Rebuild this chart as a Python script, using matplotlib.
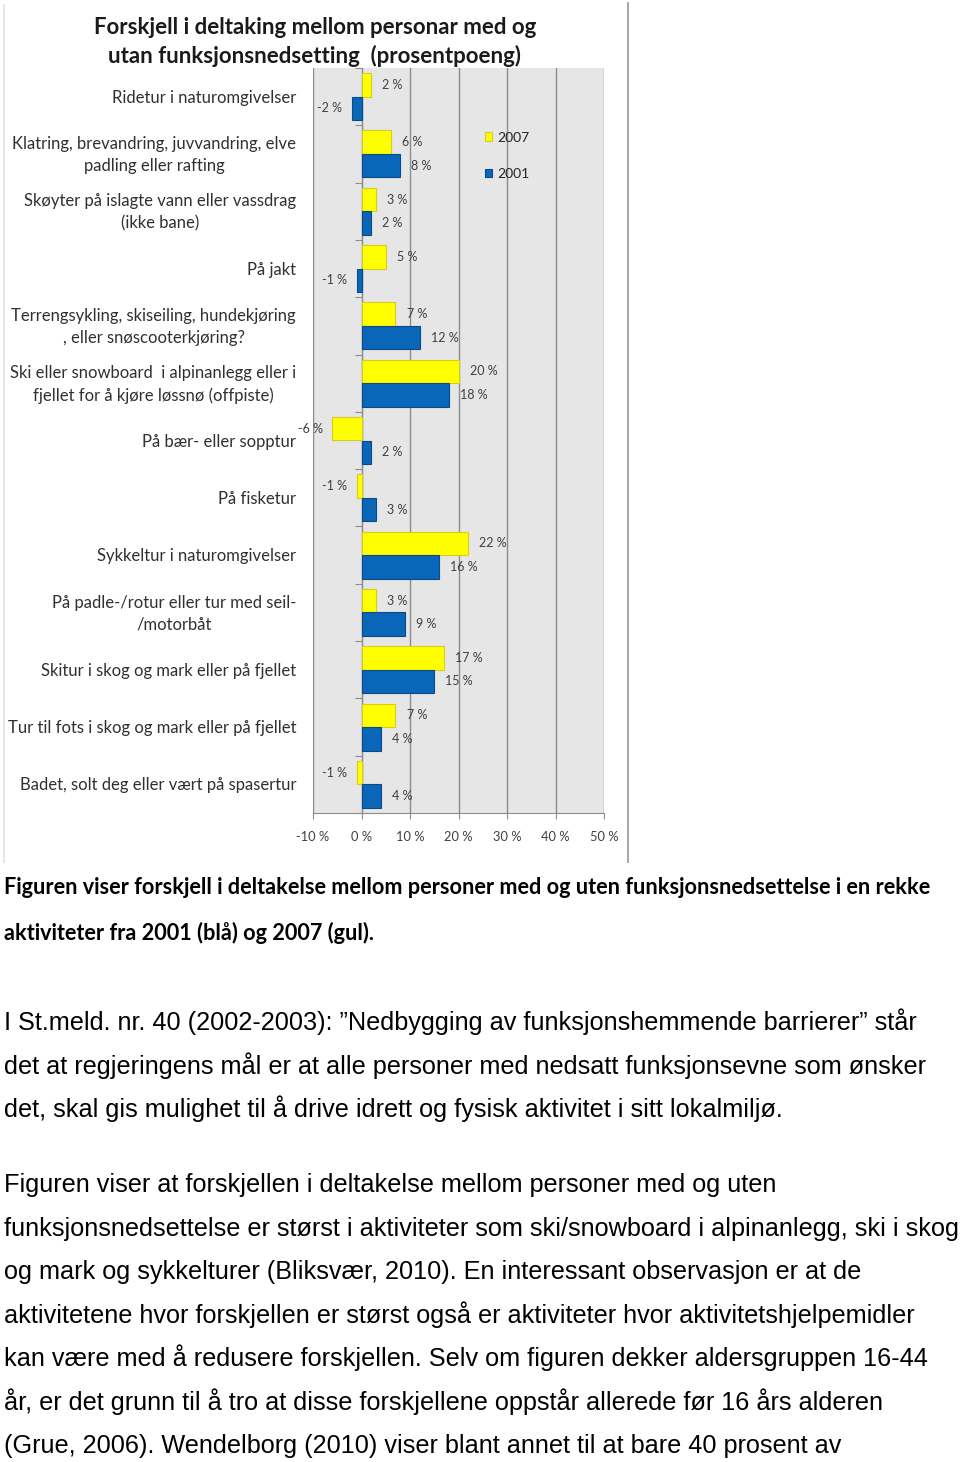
import matplotlib
matplotlib.use("Agg")
import matplotlib.pyplot as plt
from matplotlib import font_manager
from matplotlib.lines import Line2D
from matplotlib.transforms import blended_transform_factory

W, H = 960, 1462

categories = [
    "Ridetur i naturomgivelser",
    "Klatring, brevandring, juvvandring, elve\npadling eller rafting",
    "Skøyter på islagte vann eller vassdrag\n(ikke bane)",
    "På jakt",
    "Terrengsykling, skiseiling, hundekjøring\n, eller snøscooterkjøring?",
    "Ski eller snowboard  i alpinanlegg eller i\nfjellet for å kjøre løssnø (offpiste)",
    "På bær- eller sopptur",
    "På fisketur",
    "Sykkeltur i naturomgivelser",
    "På padle-/rotur eller tur med seil-\n/motorbåt",
    "Skitur i skog og mark eller på fjellet",
    "Tur til fots i skog og mark eller på fjellet",
    "Badet, solt deg eller vært på spasertur",
]
v2007 = [2, 6, 3, 5, 7, 20, -6, -1, 22, 3, 17, 7, -1]
v2001 = [-2, 8, 2, -1, 12, 18, 2, 3, 16, 9, 15, 4, 4]
xticks = [-10, 0, 10, 20, 30, 40, 50]

title = "Forskjell i deltaking mellom personar med og\nutan funksjonsnedsetting  (prosentpoeng)"
caption = [
    "Figuren viser forskjell i deltakelse mellom personer med og uten funksjonsnedsettelse i en rekke",
    "aktiviteter fra 2001 (blå) og 2007 (gul).",
]
body = [
    "I St.meld. nr. 40 (2002-2003): \u201dNedbygging av funksjonshemmende barrierer\u201d står",
    "det at regjeringens mål er at alle personer med nedsatt funksjonsevne som ønsker",
    "det, skal gis mulighet til å drive idrett og fysisk aktivitet i sitt lokalmiljø.",
    "Figuren viser at forskjellen i deltakelse mellom personer med og uten",
    "funksjonsnedsettelse er størst i aktiviteter som ski/snowboard i alpinanlegg, ski i skog",
    "og mark og sykkelturer (Bliksvær, 2010). En interessant observasjon er at de",
    "aktivitetene hvor forskjellen er størst også er aktiviteter hvor aktivitetshjelpemidler",
    "kan være med å redusere forskjellen. Selv om figuren dekker aldersgruppen 16-44",
    "år, er det grunn til å tro at disse forskjellene oppstår allerede før 16 års alderen",
    "(Grue, 2006). Wendelborg (2010) viser blant annet til at bare 40 prosent av",
]
caption_base = [894, 940]
body_base = [1030, 1074, 1117, 1192, 1236, 1279, 1323, 1366, 1410, 1453]

CAL = "Lato"
installed = {f.name for f in font_manager.fontManager.ttflist}
BODY_FONT = "Liberation Sans Narrow" if "Liberation Sans Narrow" in installed else "Liberation Sans"

YEL, YEL_E = "#ffff00", "#d8cc20"
BLU, BLU_E = "#0a66b8", "#0a4a85"


def fx(px):
    return px / W


def fy(px):
    return 1 - px / H


def fit_text(fig, x, y, s, width_px, size, **kw):
    # shrink or grow font so the line spans width_px
    t = fig.text(fx(x), fy(y), s, fontsize=size, **kw)
    r = fig.canvas.get_renderer()
    w = t.get_window_extent(r).width
    t.set_fontsize(size * width_px / w)
    return t


fig = plt.figure(figsize=(W / 100, H / 100), dpi=100)
fig.patch.set_facecolor("white")

ax = fig.add_axes([fx(313), fy(813), fx(604) - fx(313), (813 - 68) / H])
ax.set_facecolor("#e6e6e6")

n = len(categories)
ys = list(range(n))
bh = 0.41
b07 = ax.barh([y - bh / 2 for y in ys], v2007, height=bh, color=YEL,
              edgecolor=YEL_E, linewidth=0.8, label="2007", zorder=3)
b01 = ax.barh([y + bh / 2 for y in ys], v2001, height=bh, color=BLU,
              edgecolor=BLU_E, linewidth=0.8, label="2001", zorder=3)

for bars, vals in ((b07, v2007), (b01, v2001)):
    for b, v in zip(bars, vals):
        yc = b.get_y() + b.get_height() / 2
        off = 8 if v >= 0 else -7
        ax.annotate(f"{v} %", (v, yc), xytext=(off, 0), textcoords="offset points",
                    ha="left" if v >= 0 else "right", va="center",
                    fontsize=9, color="#404040", family=CAL, zorder=4)

ax.set_xlim(-10, 50)
ax.set_ylim(n - 0.5, -0.5)
ax.set_xticks(xticks)
ax.set_xticklabels([f"{t} %" for t in xticks], fontsize=9.3, color="#404040", family=CAL)
ax.tick_params(axis="x", length=4, color="#8c8c8c", pad=9)
ax.grid(axis="x", color="#8c8c8c", linewidth=1, zorder=1)
ax.set_axisbelow(True)

# category axis sits at x = 0 with ticks between categories
ax.spines["left"].set_position(("data", 0))
ax.spines["left"].set_color("#8c8c8c")
ax.set_yticks([i + 0.5 for i in range(-1, n)])
ax.set_yticklabels([])
ax.tick_params(axis="y", length=5, color="#8c8c8c", direction="out")
for s in ("top", "right"):
    ax.spines[s].set_visible(False)
ax.spines["bottom"].set_color("#8c8c8c")

lab_tr = blended_transform_factory(fig.transFigure, ax.transData)
for y, c in zip(ys, categories):
    ax.text(fx(296), y + 0.02, c, transform=lab_tr, ha="right", va="center",
            multialignment="center", fontsize=12, color="#303030",
            family=CAL, linespacing=1.45)

leg = ax.legend(handles=[b07, b01], loc="upper left", bbox_to_anchor=(fx(472), fy(119)),
                bbox_transform=fig.transFigure, frameon=False, handlelength=0.55,
                handleheight=0.55, handletextpad=0.35, labelspacing=1.75,
                prop={"family": CAL, "size": 10})
for t in leg.get_texts():
    t.set_color("#262626")

fig.text(fx(315), fy(42), title, ha="center", va="center", fontsize=16,
         fontweight="bold", family=CAL, color="#1a1a1a", linespacing=1.4)

# frame lines of the embedded chart picture
fig.add_artist(Line2D([fx(4), fx(4)], [fy(5), fy(862)], color="#e2e2e2", lw=1.2))
fig.add_artist(Line2D([fx(628), fx(628)], [fy(3), fy(862)], color="#a8a8a8", lw=1.4))

fit_text(fig, 4, caption_base[0], caption[0], 926, 14, family=CAL,
         fontweight="bold", color="black", va="baseline")
cap_size = fig.texts[-1].get_fontsize()
fig.text(fx(4), fy(caption_base[1]), caption[1], fontsize=cap_size, family=CAL,
         fontweight="bold", color="black", va="baseline")

ref = fit_text(fig, 4, body_base[1], body[1], 923, 17, family=BODY_FONT,
               color="black", va="baseline")
body_size = ref.get_fontsize()
for i, (s, yb) in enumerate(zip(body, body_base)):
    if i == 1:
        continue
    fig.text(fx(4), fy(yb), s, fontsize=body_size, family=BODY_FONT,
             color="black", va="baseline")

fig.savefig("out.png", dpi=100, facecolor="white")
